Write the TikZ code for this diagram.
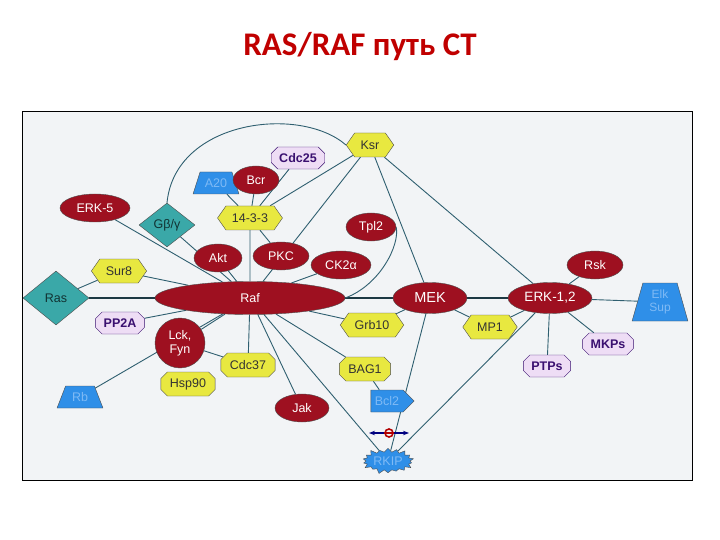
\documentclass[tikz,border=0pt]{standalone}
\usepackage{fontspec}
\setmainfont{Liberation Sans}
\newfontfamily\titlefont{Carlito}
\usetikzlibrary{shapes.geometric,shapes.misc,shapes.symbols,arrows.meta,backgrounds}
\definecolor{rednode}{HTML}{9E1020}
\definecolor{yel}{HTML}{E8E840}
\definecolor{pur}{HTML}{EEDDF5}
\definecolor{purt}{HTML}{3A1070}
\definecolor{blu}{HTML}{2F8FE8}
\definecolor{blut}{HTML}{7FBAF5}
\definecolor{teal}{HTML}{3AA8A8}
\definecolor{edge}{HTML}{2F5F70}
\definecolor{bg}{HTML}{F2F4F6}
\definecolor{titlered}{HTML}{C00000}
\begin{document}
\begin{tikzpicture}[x=1pt,y=-1pt,
  every node/.style={font=\fontsize{12.5}{14}\selectfont, inner sep=1pt},
  red/.style={ellipse, fill=rednode, draw=black!70, text=white, minimum width=#1 pt, minimum height=28pt},
  red/.default=50,
  hex/.style={signal, signal to=east and west, signal pointer angle=110, fill=yel, draw=black!70, text=black!80, minimum height=24pt, inner xsep=6pt},
  purp/.style={chamfered rectangle, chamfered rectangle xsep=3pt, fill=pur, draw=purt, text=purt, minimum height=22pt, inner xsep=5pt, font=\fontsize{12.5}{14}\selectfont\bfseries},
  box/.style={chamfered rectangle, chamfered rectangle xsep=3pt, fill=yel, draw=black!70, text=black!80, minimum height=24pt, inner xsep=6pt},
  trap/.style={trapezium, trapezium stretches=true, trapezium angle=65, fill=blu, draw=black!70, text=blut, minimum height=22pt, inner xsep=2pt},
  dia/.style={diamond, aspect=1.3, fill=teal, draw=black!70, text=black!70!teal},
  e/.style={draw=edge, line width=0.9pt},
  thick e/.style={draw=edge!60!black, line width=2.2pt}]
\useasboundingbox (0,0) rectangle (720,540);
\node[font=\titlefont\bfseries\fontsize{33}{36}\selectfont, text=titlered] (title) at (360,47) {RAS/RAF путь СТ};

% nodes
\node[red=190, minimum height=33pt] (raf) at (250,298) {Raf};
\node[red=74, minimum height=31pt, font=\fontsize{14.5}{16}\selectfont] (mek) at (430,298) {MEK};
\node[red=84, minimum height=31pt, font=\fontsize{13.5}{16}\selectfont] (erk) at (550,298) {ERK-1,2};
\node[trap, trapezium angle=73, minimum height=38pt, minimum width=56pt, align=center, font=\fontsize{12}{13}\selectfont] (elk) at (660,302) {Elk\\Sup};
\node[red=56] (rsk) at (595,265) {Rsk};
\node[purp] (mkps) at (608,344) {MKPs};
\node[purp] (ptps) at (547,366) {PTPs};
\node[hex] (mp1) at (490,327) {MP1};
\node[hex] (grb) at (372,325) {Grb10};
\node[box] (bag) at (365,369) {BAG1};
\node[signal, signal to=east, fill=blu, draw=black!70, text=blut, minimum height=22pt, inner xsep=4pt] (bcl) at (387,401) {Bcl2};
\node[starburst, starburst points=18, starburst point height=5pt, fill=blu, draw=black!70, text=blut, inner sep=1pt, minimum width=48pt, minimum height=28pt] (rkip) at (388,461) {RKIP};
\coordinate (inhL) at (369,433);
\coordinate (inhR) at (409,433);
\draw[{Stealth[length=6pt]}-{Stealth[length=6pt]}, line width=1.3pt, draw=blue!50!black] (inhL) -- (inhR);
\node[circle, draw=red!70!black, line width=1.6pt, minimum size=8pt, inner sep=0pt, fill=bg] (inhc) at (389,433) {};
\draw[red!70!black, line width=1.6pt] (inhc.west) -- (inhc.east);
\node[red=54] (jak) at (302,408) {Jak};
\node[box] (cdc37) at (248,365) {Cdc37};
\node[box] (hsp) at (188,384) {Hsp90};
\node[circle, fill=rednode, draw=black!70, text=white, minimum size=50pt, align=center] (lck) at (180,343) {Lck,\\Fyn};
\node[trap, trapezium angle=62, minimum width=46pt] (rb) at (80,397) {Rb};
\node[purp] (pp2a) at (120,323) {PP2A};
\node[dia, minimum width=66pt, minimum height=54pt] (ras) at (56,298) {Ras};
\node[hex] (sur) at (119,271) {Sur8};
\node[red=70] (erk5) at (95,208) {ERK-5};
\node[dia, minimum width=56pt, minimum height=44pt] (gbg) at (167,225) {G\symbol{"03B2}/\symbol{"03B3}};
\node[trap, trapezium angle=62, minimum width=46pt] (a20) at (216,183) {A20};
\node[red=46] (bcr) at (256,180) {Bcr};
\node[purp] (cdc25) at (298,158) {Cdc25};
\node[hex] (f1433) at (250,218) {14-3-3};
\node[red=48] (akt) at (218,258) {Akt};
\node[red=56] (pkc) at (281,256) {PKC};
\node[red=60] (ck2) at (341,265) {CK2\symbol{"03B1}};
\node[red=50] (tpl2) at (371,227) {Tpl2};
\node[hex] (ksr) at (370,145) {Ksr};

\begin{pgfonlayer}{background}
\draw[black, line width=1pt, fill=bg] (22,112) rectangle (692,480);
\path[thick e] (ras) -- (raf) (raf) -- (mek) (mek) -- (erk);
\path[e] (erk) -- (elk) (erk) -- (rsk) (erk) -- (mkps) (erk) -- (ptps) (erk) -- (mp1) (mek) -- (mp1)
 (mek) -- (grb) (raf) -- (grb) (raf) -- (bag) (bag) -- (bcl)
 (raf) -- (rkip) (mek) -- (rkip) (erk) -- (rkip)
 (raf) -- (jak) (raf) -- (cdc37) (lck) -- (cdc37) (raf) -- (lck) (raf) -- (rb) (raf) -- (pp2a)
 (raf) -- (sur) (sur) -- (ras) (raf) -- (erk5) (raf) -- (gbg) (raf) -- (akt) (raf) -- (f1433)
 (f1433) -- (a20) (f1433) -- (bcr) (f1433) -- (pkc) (f1433) -- (cdc25) (f1433) -- (ksr)
 (raf) -- (ksr) (raf) -- (ck2) (ksr) -- (mek) (ksr) -- (erk);
\path[e] (gbg.north) .. controls (175,120) and (300,105) .. (ksr.west);
\path[e] (tpl2.east) .. controls (400,245) and (380,285) .. (raf.east);
\end{pgfonlayer}
\end{tikzpicture}
\end{document}
